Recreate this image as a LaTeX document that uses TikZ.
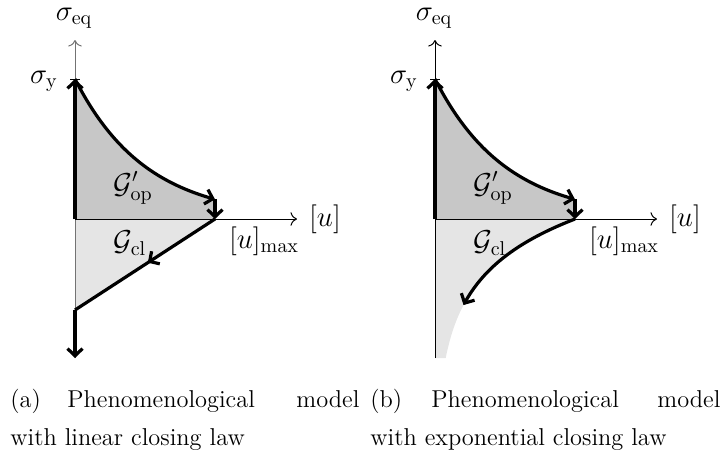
\documentclass[tikz,border=0pt]{standalone}
\usepackage{amsmath}
\usetikzlibrary{decorations.markings,arrows.meta}
\begin{document}
\begin{tikzpicture}[x=0.5pt,y=-0.5pt,
  thicktip/.style={-{Straight Barb[length=3.6pt,width=7.5pt,line join=miter]}},
  axisline/.style={line width=0.5pt,-{To[scale=1.2]}},
  flow/.style={line width=1.6pt,thicktip,line join=round},
  flowplain/.style={line width=1.6pt,line join=round},
  lbl/.style={font=\fontsize{14.9}{18}\selectfont, inner sep=0pt},
  captext/.style={font=\fontsize{12.2}{14}\selectfont, inner sep=0pt, anchor=base west},
  midarrow/.style={postaction={decorate},decoration={markings,mark=at position 0.48 with {\arrow{Straight Barb[length=3.6pt,width=7.5pt]}}}},
  darkfill/.style={fill=black!22},
  lightfill/.style={fill=black!10}
]
\useasboundingbox (0,0) rectangle (724,457);

% ---------- panel (a) ----------
\coordinate (Oa) at (75,219);
\coordinate (Ya) at (75,79);
\coordinate (Ma) at (215,219);
\coordinate (Ea) at (215,199.3);
\coordinate (Ca) at (75,310);
\coordinate (Ba) at (75,358);
\coordinate (Ta) at (75,40);
\coordinate (Ra) at (297,219);

\path[darkfill] (Oa) -- plot[domain=0:140,samples=60] ({75+\x},{219-140*exp(-0.014*\x)}) -- (Ma) -- cycle;
\path[lightfill] (Oa) -- (Ma) -- (Ca) -- cycle;

\draw[axisline, black!55] (Ba) -- (Ta);
\draw[axisline] (Oa) -- (Ra);
\draw[line width=0.5pt] ([xshift=-2.5pt]Ya) -- ([xshift=2.5pt]Ya);

\draw[flow] (Oa) -- (Ya);
\draw[flow] plot[domain=0:140,samples=60] ({75+\x},{219-140*exp(-0.014*\x)});
\draw[flow] (Ea) -- (Ma);
\draw[flowplain, midarrow] (Ma) -- (Ca);
\draw[flow] (Ca) -- (Ba);

\node[lbl] (seqa) at (74,18) {$\sigma_{\mathrm{eq}}$};
\node[lbl] (sya) at (44,81) {$\sigma_{\mathrm{y}}$};
\node[lbl] (gopa) at (133,188) {$\mathcal{G}'_{\mathrm{op}}$};
\node[lbl] (gcla) at (130,243) {$\mathcal{G}_{\mathrm{cl}}$};
\node[lbl] (ua) at (325,219) {$[u]$};
\node[lbl] (umaxa) at (264,241) {$[u]_{\max}$};

% ---------- panel (b) ----------
\coordinate (Ob) at (435,219);
\coordinate (Yb) at (435,79);
\coordinate (Mb) at (575,219);
\coordinate (Eb) at (575,199.3);
\coordinate (Bb) at (435,358);
\coordinate (Tb) at (435,40);
\coordinate (Rb) at (657,219);

\path[darkfill] (Ob) -- plot[domain=0:140,samples=60] ({435+\x},{219-140*exp(-0.014*\x)}) -- (Mb) -- cycle;
\path[lightfill] (Ob) -- (Mb) -- plot[domain=0:139,samples=60] ({435+140*exp(-0.0185*\x)},{219+\x}) -- (Bb) -- cycle;

\draw[axisline] (Bb) -- (Tb);
\draw[axisline] (Ob) -- (Rb);
\draw[line width=0.5pt] ([xshift=-2.5pt]Yb) -- ([xshift=2.5pt]Yb);

\draw[flow] (Ob) -- (Yb);
\draw[flow] plot[domain=0:140,samples=60] ({435+\x},{219-140*exp(-0.014*\x)});
\draw[flow] (Eb) -- (Mb);
\draw[flow] plot[domain=0:86,samples=50] ({435+140*exp(-0.0185*\x)},{219+\x});

\node[lbl] (seqb) at (434,18) {$\sigma_{\mathrm{eq}}$};
\node[lbl] (syb) at (404,81) {$\sigma_{\mathrm{y}}$};
\node[lbl] (gopb) at (493,188) {$\mathcal{G}'_{\mathrm{op}}$};
\node[lbl] (gclb) at (490,243) {$\mathcal{G}_{\mathrm{cl}}$};
\node[lbl] (ub) at (685,219) {$[u]$};
\node[lbl] (umaxb) at (624,241) {$[u]_{\max}$};

% ---------- captions ----------
\node[captext] (ca1) at (10,407) {(a)};
\node[captext] (ca2) at (67,407) {Phenomenological};
\node[captext] (ca3) at (296,407) {model};
\node[captext] (ca4) at (10,445) {with linear closing law};
\node[captext] (cb1) at (370,407) {(b)};
\node[captext] (cb2) at (431,407) {Phenomenological};
\node[captext] (cb3) at (657,407) {model};
\node[captext] (cb4) at (370,445) {with exponential closing law};
\end{tikzpicture}
\end{document}
